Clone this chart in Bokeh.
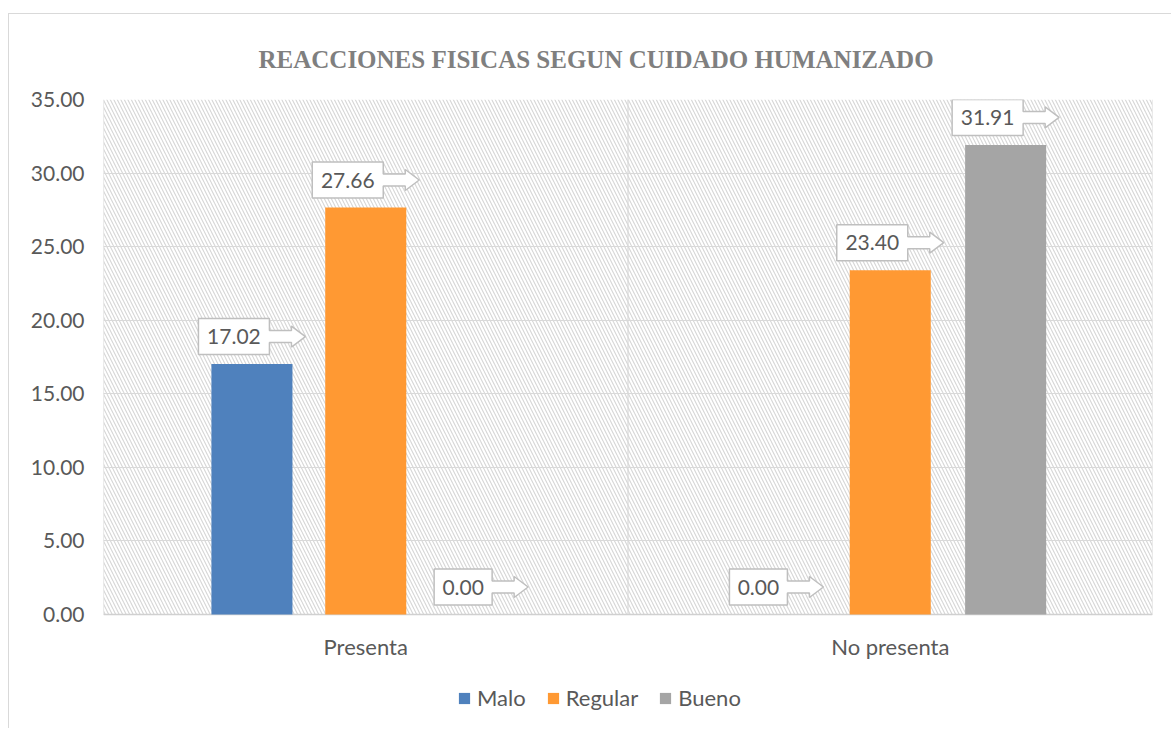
from bokeh.plotting import figure
from bokeh.models import (Range1d, FixedTicker, NumeralTickFormatter, Legend, LegendItem,
                          BoxAnnotation, ColumnDataSource)
from bokeh.core.properties import value
from bokeh.embed import file_html
from bokeh.resources import INLINE

# ---------------- data ----------------
categories = ["Presenta", "No presenta"]
series_names = ["Malo", "Regular", "Bueno"]
malo = [17.02, 0.00]
regular = [27.66, 23.40]
bueno = [0.00, 31.91]
y_ticks = [0, 5, 10, 15, 20, 25, 30, 35]
title_text = "REACCIONES FISICAS SEGUN CUIDADO HUMANIZADO"

# ---------------- styles ----------------
colors = ["#4F81BD", "#FF9933", "#A5A5A5"]
offsets = [-0.217, 0.0, 0.22]
bar_w = 0.1545
txt_col = "#595959"
grid_col = "#d9d9d9"
FONT = "Lato"

W, H = 1163, 715
ML, MR, MT, MB = 94, 20, 85, 0
DATA_H = 515            # pixel height of the 0..35 value band
FW, FH = W - ML - MR, H - MT - MB
YMAX = y_ticks[-1]
PX_X = FW / len(categories)
PX_Y = DATA_H / YMAX
YMIN = -(FH - DATA_H) / PX_Y

p = figure(width=W, height=H, x_range=Range1d(0, len(categories)), y_range=Range1d(YMIN, YMAX),
           output_backend="svg", toolbar_location=None, x_axis_location=None,
           min_border_left=ML, min_border_right=MR, min_border_top=MT, min_border_bottom=MB)
p.outline_line_color = None
p.background_fill_color = "white"
p.border_fill_color = "white"
p.styles = {"border-left": "1px solid #d9d9d9", "border-top": "1px solid #d9d9d9",
            "margin-left": "8px", "margin-top": "13px"}

# hatched plot-area background (value band only)
bg = BoxAnnotation(bottom=0, fill_color="white", fill_alpha=1, line_color=None,
                   hatch_pattern="\\", hatch_color="#d6d6d6", hatch_scale=7, hatch_weight=1.1,
                   level="image")
p.add_layout(bg)

# title
p.title.text = title_text
p.title.align = "left"
p.title.vertical_align = "top"
p.title.text_font = "Liberation Serif"
p.title.text_font_style = "bold"
p.title.text_font_size = "25px"
p.title.text_color = "#7f7f7f"
p.title.offset = 155
p.title.standoff = 49

# y axis
p.yaxis.ticker = FixedTicker(ticks=y_ticks)
p.yaxis.formatter = NumeralTickFormatter(format="0.00")
p.yaxis.axis_line_color = None
p.yaxis.major_tick_line_color = None
p.yaxis.minor_tick_line_color = None
p.yaxis.major_label_standoff = 13
p.yaxis.major_label_text_font = FONT
p.yaxis.major_label_text_font_size = "21px"
p.yaxis.major_label_text_color = txt_col

p.ygrid.ticker = FixedTicker(ticks=y_ticks)
p.ygrid.grid_line_color = grid_col
p.ygrid.grid_line_width = 1.2
p.xgrid.visible = False

# category separators and baseline
seps = list(range(len(categories) + 1))
p.segment(x0=seps, x1=seps, y0=[0] * len(seps), y1=[YMAX] * len(seps),
          line_color=grid_col, line_width=1.2)
p.segment(x0=[0], x1=[len(categories)], y0=[0], y1=[0], line_color="#d0d0d0", line_width=1.6)

# category labels
cat_centers = [i + 0.5 for i in range(len(categories))]
p.text(x=cat_centers, y=[0] * len(categories), text=categories, y_offset=32,
       text_align="center", text_baseline="middle",
       text_font=value(FONT), text_font_size="22px", text_color=txt_col)

# bars
all_series = [malo, regular, bueno]
renderers = []
for name, vals, col, off in zip(series_names, all_series, colors, offsets):
    src = ColumnDataSource(dict(x=[c + off for c in cat_centers], top=vals))
    r = p.vbar(x="x", top="top", width=bar_w, source=src, fill_color=col, line_color=None)
    renderers.append(r)

# callout data labels
xs, ys, tx, ty, tt = [], [], [], [], []
for vals, off in zip(all_series, offsets):
    for c, v in zip(cat_centers, vals):
        lab = f"{v:.2f}"
        cx = c + off
        bw = (13 * len(lab) + 6) / PX_X
        aw = 36 / PX_X
        shaft = 22 / PX_X
        L = cx - (bw + aw) / 2
        R = L + bw
        B = v + 9.5 / PX_Y
        T = B + 36 / PX_Y
        C = (B + T) / 2
        sh = 6 / PX_Y
        hh = 10.5 / PX_Y
        xs.append([L, R, R, R + shaft, R + shaft, R + aw, R + shaft, R + shaft, R, R, L])
        ys.append([T, T, C + sh, C + sh, C + hh, C, C - hh, C - sh, C - sh, B, B])
        tx.append((L + R) / 2)
        ty.append(C)
        tt.append(lab)

p.patches(xs=xs, ys=ys, fill_color="white", line_color="#bfbfbf", line_width=1.5)
p.text(x=tx, y=ty, text=tt, text_align="center", text_baseline="middle",
       text_font=value(FONT), text_font_size="21px", text_color=txt_col)

# legend under the category labels
legend = Legend(items=[LegendItem(label=n, renderers=[r]) for n, r in zip(series_names, renderers)],
                orientation="horizontal", location=(354, 18),
                glyph_width=14, glyph_height=14, label_standoff=6, spacing=20,
                label_text_font=FONT, label_text_font_size="22px", label_text_color=txt_col,
                border_line_color=None, background_fill_alpha=0, padding=0, margin=0)
p.add_layout(legend)

open("out.html", "w").write(file_html(p, INLINE))
